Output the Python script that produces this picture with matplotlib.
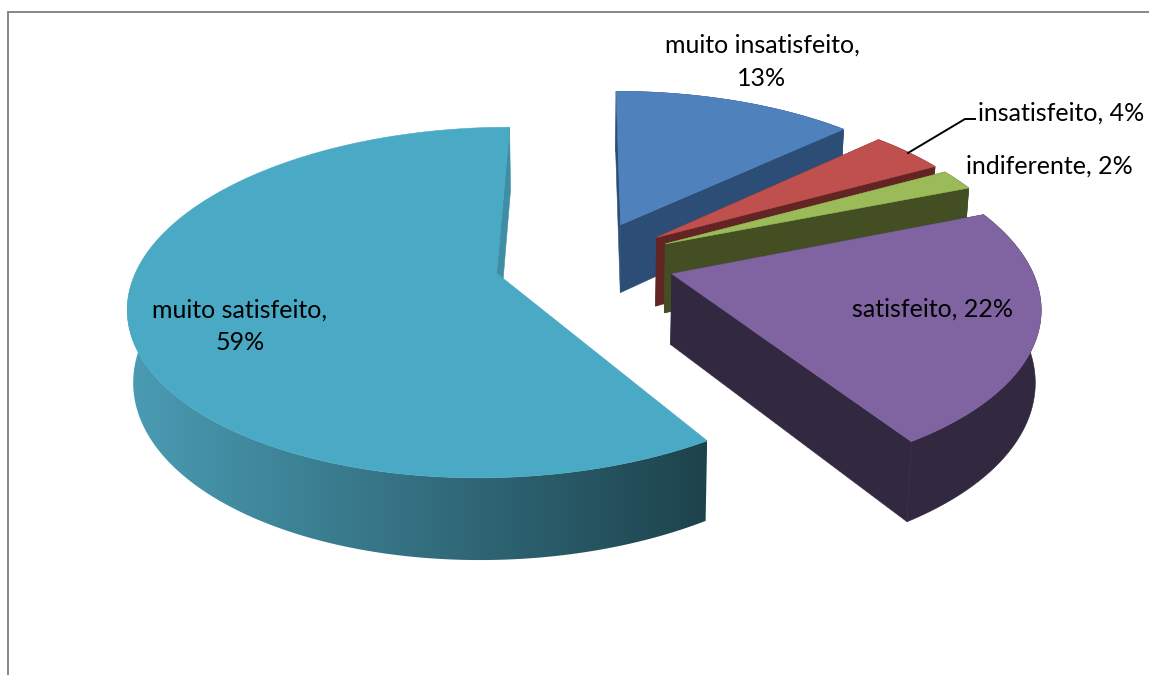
import numpy as np
import matplotlib
matplotlib.use("Agg")
import matplotlib.pyplot as plt
from matplotlib.colors import to_rgb
from matplotlib.patches import Polygon

# survey answers, clockwise from 12 o'clock
categories = ["muito insatisfeito", "insatisfeito", "indiferente", "satisfeito", "muito satisfeito"]
percent = [13, 4, 2, 22, 59]
top_colors = ["#4f81bd", "#c0504d", "#9bbb59", "#8064a2", "#4aa9c4"]
side_colors = ["#2c4d75", "#632523", "#434f23", "#32283f", None]
explode = [88, 88, 88, 88, 93]

# pie geometry in pixels
CX, CY = 587, 261
RADIUS = 357
TILT = 0.466
PERSP = 0.165
DEPTH = 70
SHRINK = 0.987

GRAD_LIGHT = "#4a9cb4"
GRAD_DARK = "#1d434c"


def project(u, v, low=False):
    w = 1 - PERSP * v / RADIUS
    if low:
        return CX + SHRINK * u / w, CY + (SHRINK * TILT * v + DEPTH) / w
    return CX + u / w, CY + TILT * v / w


fig = plt.figure(figsize=(11.49, 6.75), dpi=100)
ax = fig.add_axes([0, 0, 1, 1])

# chart area border, only left and top are inside the frame
ax.plot([8, 8, 1149], [675, 12, 12], color="#868686", lw=1.4, solid_joinstyle="miter")

start = 0.0
for i, pct in enumerate(percent):
    end = start + pct * 3.6
    mid = np.radians((start + end) / 2)
    off_u, off_v = explode[i] * np.sin(mid), -explode[i] * np.cos(mid)

    theta = np.radians(np.linspace(start, end, 200))
    u = off_u + RADIUS * np.sin(theta)
    v = off_v - RADIUS * np.cos(theta)

    xt, yt = project(u, v)
    xb, yb = project(u, v, low=True)
    ax_t, ay_t = project(off_u, off_v)
    ax_b, ay_b = project(off_u, off_v, low=True)
    z = 2 * i + 2

    if side_colors[i] is not None:
        side = side_colors[i]
        for k in (0, -1):
            ax.add_patch(Polygon([(ax_t, ay_t), (xt[k], yt[k]), (xb[k], yb[k]), (ax_b, ay_b)],
                                 fc=side, ec=side, lw=0.4, zorder=z))
        outer = list(zip(xt, yt)) + list(zip(xb[::-1], yb[::-1]))
        ax.add_patch(Polygon(outer, fc=side, ec=side, lw=0.4, zorder=z))
    else:
        # big slice: inner wall at 12 o'clock and a shaded outer wall (front part only)
        ax.add_patch(Polygon([(ax_t, ay_t), (xt[-1], yt[-1]), (xb[-1], yb[-1]), (ax_b, ay_b)],
                             fc="#3f8ea6", ec="#3f8ea6", lw=0.4, zorder=z))
        front = theta <= np.radians(268)
        outer = Polygon(list(zip(xt[front], yt[front])) + list(zip(xb[front][::-1], yb[front][::-1])),
                        transform=ax.transData, fc="none", ec="none")
        ax.add_patch(outer)
        x_min = min(xt[front].min(), xb[front].min())
        x_max = max(xt[front].max(), xb[front].max())
        ramp = np.linspace(0, 1, 256)[:, None]
        rgb = np.array(to_rgb(GRAD_LIGHT)) + (np.array(to_rgb(GRAD_DARK)) - np.array(to_rgb(GRAD_LIGHT))) * ramp
        img = ax.imshow(rgb[None, :, :], extent=[x_min, x_max, 675, 0], aspect="auto", zorder=z)
        img.set_clip_path(outer)

    ax.add_patch(Polygon([(ax_t, ay_t)] + list(zip(xt, yt)),
                         fc=top_colors[i], ec=top_colors[i], lw=0.4, zorder=z + 1))
    start = end

ax.set_xlim(0, 1149)
ax.set_ylim(675, 0)
ax.axis("off")

# leader line for the small slice
ax.plot([908, 965, 975], [153, 119, 119], color="black", lw=1.4, solid_joinstyle="miter", zorder=20)

font = dict(family="Lato", fontsize=18, color="black", ha="center", va="center", zorder=21)
ax.text(762, 45, f"{categories[0]},", **font)
ax.text(762, 78, f"{percent[0]}%", **font)
ax.text(1061, 113, f"{categories[1]}, {percent[1]}%", **font)
ax.text(1049, 166, f"{categories[2]}, {percent[2]}%", **font)
ax.text(933, 309, f"{categories[3]}, {percent[3]}%", **font)
ax.text(240, 310, f"{categories[4]},", **font)
ax.text(240, 342, f"{percent[4]}%", **font)

fig.savefig("out.png", dpi=100)
